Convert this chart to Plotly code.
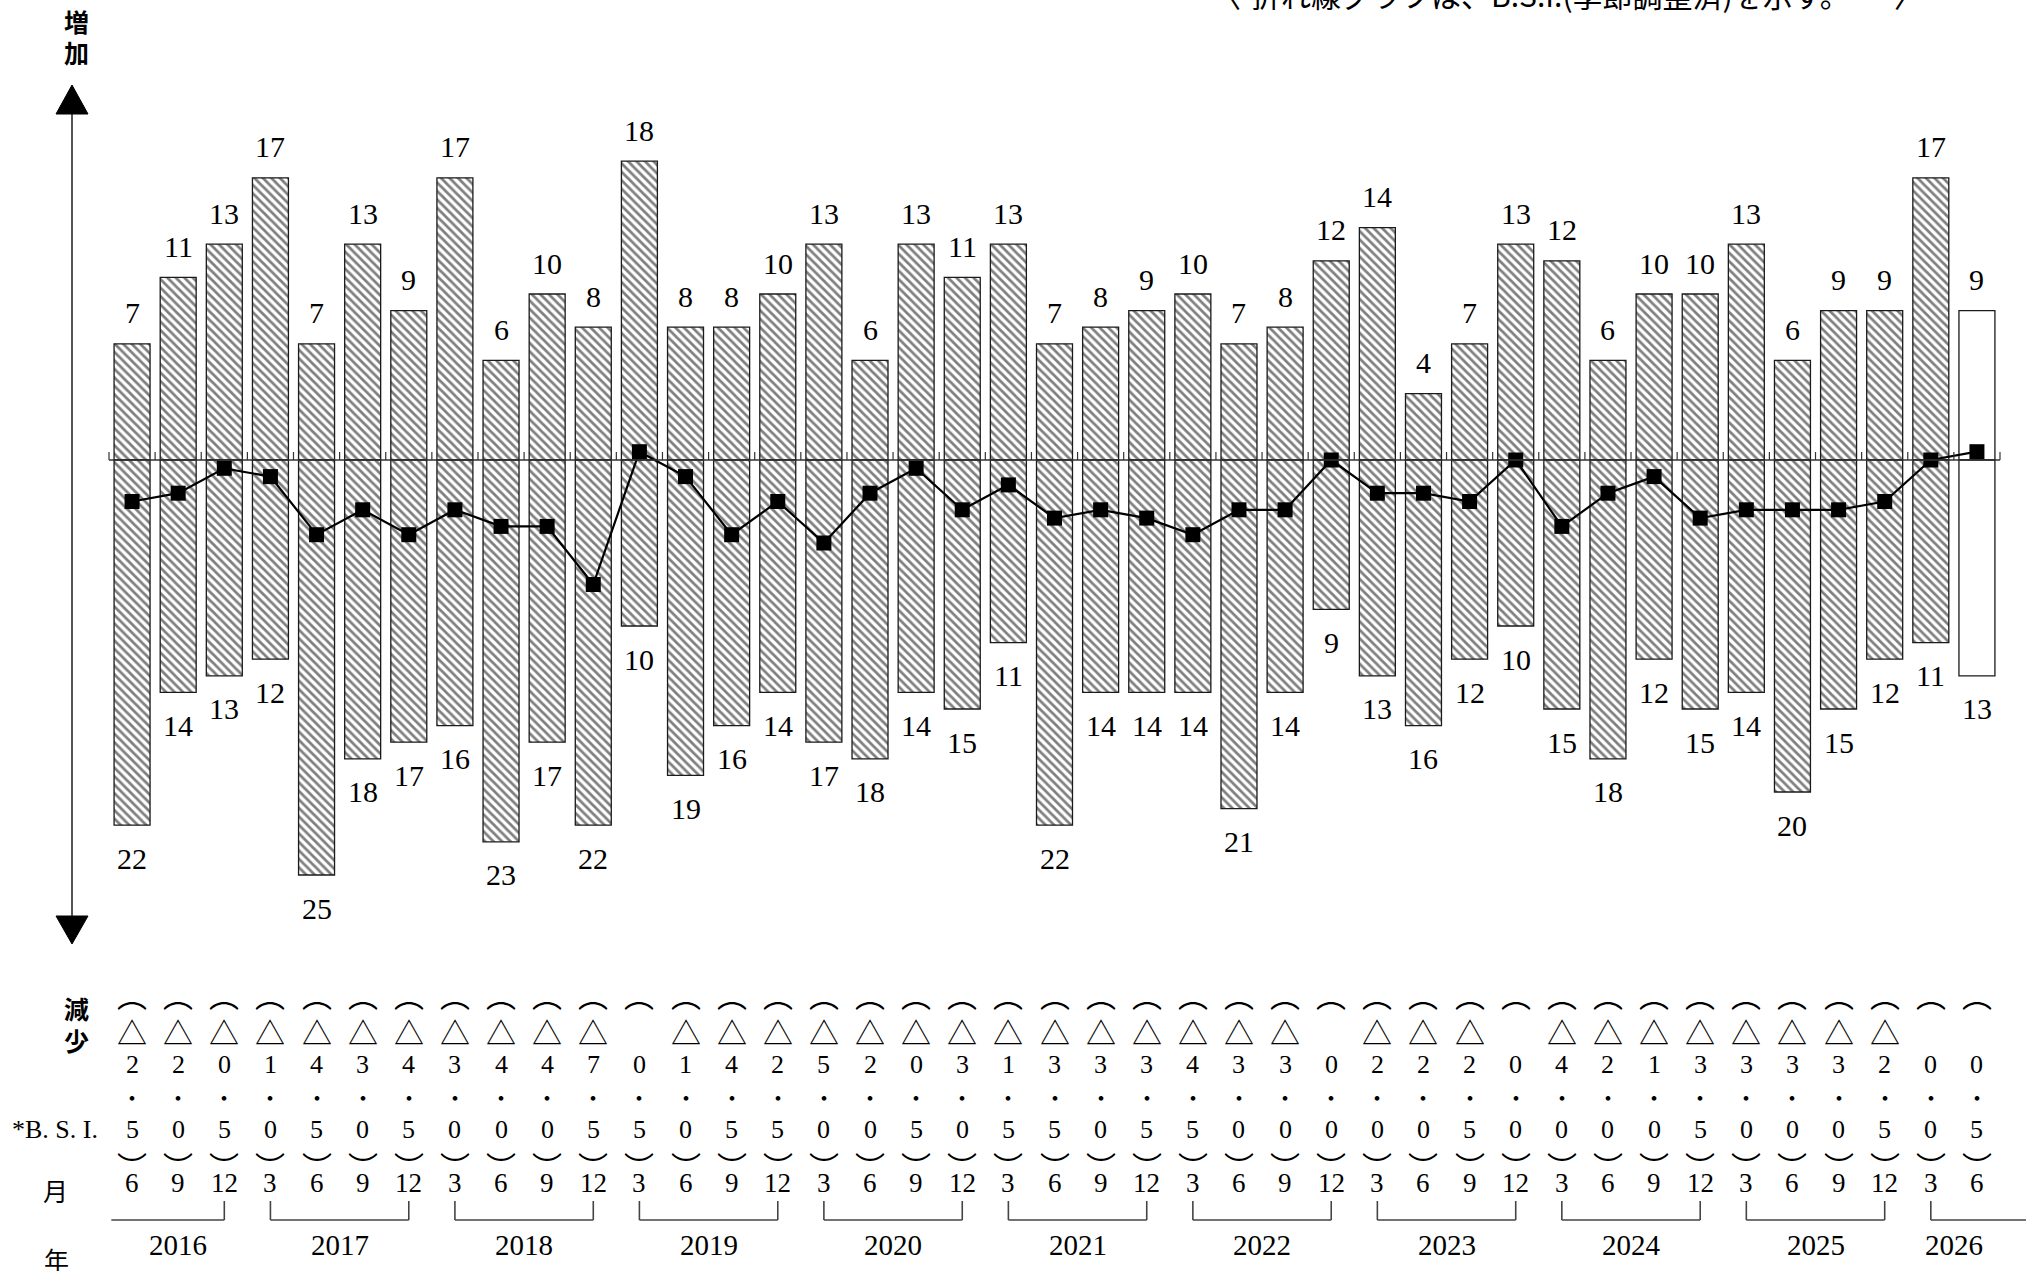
import plotly.graph_objects as go

# ---------------- data ----------------
years = [2016] * 3 + [y for y in range(2017, 2026) for _ in range(4)] + [2026] * 2
months = [6, 9, 12] + [3, 6, 9, 12] * 9 + [3, 6]

increase = [7, 11, 13, 17, 7, 13, 9, 17, 6, 10, 8, 18, 8, 8, 10, 13, 6, 13, 11, 13,
            7, 8, 9, 10, 7, 8, 12, 14, 4, 7, 13, 12, 6, 10, 10, 13, 6, 9, 9, 17, 9]
decrease = [22, 14, 13, 12, 25, 18, 17, 16, 23, 17, 22, 10, 19, 16, 14, 17, 18, 14, 15, 11,
            22, 14, 14, 14, 21, 14, 9, 13, 16, 12, 10, 15, 18, 12, 15, 14, 20, 15, 12, 11, 13]
bsi = [-2.5, -2.0, -0.5, -1.0, -4.5, -3.0, -4.5, -3.0, -4.0, -4.0, -7.5, 0.5, -1.0, -4.5,
       -2.5, -5.0, -2.0, -0.5, -3.0, -1.5, -3.5, -3.0, -3.5, -4.5, -3.0, -3.0, 0.0, -2.0,
       -2.0, -2.5, 0.0, -4.0, -2.0, -1.0, -3.5, -3.0, -3.0, -3.0, -2.5, 0.0, 0.5]
forecast = [False] * 40 + [True]

note_text = "折れ線グラフは、B.S.I.(季節調整済)を示す。"

# ---------------- layout helpers ----------------
W, H = 2026, 1271
n = len(increase)
idx = list(range(n))
X_LEFT_PX, X_RIGHT_PX = 109, 2000      # pixel of category edges -0.5 / n-0.5
PX_PER_CAT = (X_RIGHT_PX - X_LEFT_PX) / n
ZERO_PX, PX_PER_UNIT = 460, 16.6

x_range = [-0.5 - X_LEFT_PX / PX_PER_CAT, n - 0.5 + (W - X_RIGHT_PX) / PX_PER_CAT]
y_top = ZERO_PX / PX_PER_UNIT
y_range = [y_top - H / PX_PER_UNIT, y_top]


def px(x):
    return x / W


def py(y):
    return 1 - y / H


SERIF = "Liberation Serif, Times New Roman, serif"
CJK = "Noto Sans CJK JP, Noto Sans, sans-serif"

fig = go.Figure()

pattern_shapes = ["" if f else "\\" for f in forecast]
bar_marker = dict(
    color="white",
    line=dict(color="#1a1a1a", width=1.3),
    pattern=dict(shape=pattern_shapes, fgcolor="black", bgcolor="white",
                 size=6, solidity=0.46),
)
fig.add_trace(go.Bar(x=idx, y=increase, width=0.78, marker=bar_marker,
                     showlegend=False, hoverinfo="skip"))
fig.add_trace(go.Bar(x=idx, y=[-d for d in decrease], width=0.78, marker=bar_marker,
                     showlegend=False, hoverinfo="skip"))
fig.add_trace(go.Scatter(x=idx, y=bsi, mode="lines+markers",
                         line=dict(color="black", width=2.2),
                         marker=dict(symbol="square", size=15, color="black"),
                         showlegend=False, hoverinfo="skip"))

ann = []
shapes = []

# bar value labels
for i in idx:
    ann.append(dict(x=i, y=increase[i], xref="x", yref="y", yshift=31, text=str(increase[i]),
                    showarrow=False, font=dict(family=SERIF, size=30, color="black")))
    ann.append(dict(x=i, y=-decrease[i], xref="x", yref="y", yshift=-33, text=str(decrease[i]),
                    showarrow=False, font=dict(family=SERIF, size=30, color="black")))

# zero line with ticks at category edges
shapes.append(dict(type="line", xref="x", yref="y", x0=-0.5, x1=n - 0.5, y0=0, y1=0,
                   line=dict(color="#333", width=1.6), layer="above"))
for k in range(n + 1):
    shapes.append(dict(type="line", xref="x", yref="y", ysizemode="pixel", yanchor=0,
                       x0=k - 0.5, x1=k - 0.5, y0=0, y1=8,
                       line=dict(color="#333", width=1.2), layer="above"))

# left arrow
AX = 72
shapes.append(dict(type="line", xref="paper", yref="paper", x0=px(AX), x1=px(AX),
                   y0=py(105), y1=py(925), line=dict(color="#555", width=2)))
shapes.append(dict(type="path", xref="paper", yref="paper",
                   path=f"M {px(AX)},{py(85)} L {px(56)},{py(114)} L {px(88)},{py(114)} Z",
                   fillcolor="black", line=dict(color="black", width=1)))
shapes.append(dict(type="path", xref="paper", yref="paper",
                   path=f"M {px(AX)},{py(944)} L {px(56)},{py(916)} L {px(88)},{py(916)} Z",
                   fillcolor="black", line=dict(color="black", width=1)))


def side_label(text, x, y, size=25, family=CJK, bold=False):
    t = f"<b>{text}</b>" if bold else text
    ann.append(dict(x=px(x), y=py(y), xref="paper", yref="paper", text=t, showarrow=False,
                    xanchor="center", yanchor="middle",
                    font=dict(family=family, size=size, color="black")))


side_label("増", 76, 21, bold=True)
side_label("加", 76, 52, bold=True)
side_label("減", 76, 1008, bold=True)
side_label("少", 76, 1040, bold=True)
side_label("*B. S. I.", 55, 1129, size=26, family=SERIF)
side_label("月", 55, 1190, size=25)
side_label("年", 56, 1259, size=25)

# top note (cut at the top edge as in the source)
side_label("〈", 1226, -6, size=30)
side_label(note_text, 1550, -6, size=30)
side_label("〉", 1909, -6, size=30)

# B.S.I. table
def cell(i, y, text, size=26, family=SERIF):
    ann.append(dict(x=i, y=py(y), xref="x", yref="paper", text=text, showarrow=False,
                    xanchor="center", yanchor="middle",
                    font=dict(family=family, size=size, color="black")))


for i, v in enumerate(bsi):
    a = abs(v)
    ip = int(a)
    dp = int(round((a - ip) * 10))
    cell(i, 994, "︵", size=30, family=CJK)
    if v < 0:
        cell(i, 1031, "△", size=30, family=CJK)
    cell(i, 1064, str(ip))
    cell(i, 1096, "・", size=22, family=CJK)
    cell(i, 1129, str(dp))
    cell(i, 1165, "︶", size=30, family=CJK)
    cell(i, 1183, str(months[i]), size=27)

# year brackets
BR_Y, BR_TOP = 1220, 1201
for yr in sorted(set(years)):
    ids = [i for i in idx if years[i] == yr]
    first, last = ids[0], ids[-1]
    left_open = months[first] != 3
    right_open = months[last] != 12
    x0 = -0.45 if left_open else first
    x1 = x_range[1] if right_open else last
    shapes.append(dict(type="line", xref="x", yref="paper", x0=x0, x1=x1,
                       y0=py(BR_Y), y1=py(BR_Y), line=dict(color="#444", width=1.6)))
    if not left_open:
        shapes.append(dict(type="line", xref="x", yref="paper", x0=first, x1=first,
                           y0=py(BR_TOP), y1=py(BR_Y), line=dict(color="#444", width=1.6)))
    if not right_open:
        shapes.append(dict(type="line", xref="x", yref="paper", x0=last, x1=last,
                           y0=py(BR_TOP), y1=py(BR_Y), line=dict(color="#444", width=1.6)))
    ann.append(dict(x=(first + last) / 2, y=py(1245), xref="x", yref="paper", text=str(yr),
                    showarrow=False, xanchor="center", yanchor="middle",
                    font=dict(family=SERIF, size=29, color="black")))

fig.update_layout(
    width=W, height=H,
    margin=dict(l=0, r=0, t=0, b=0, pad=0),
    paper_bgcolor="white", plot_bgcolor="white",
    barmode="overlay",
    xaxis=dict(range=x_range, visible=False, fixedrange=True),
    yaxis=dict(range=y_range, visible=False, fixedrange=True),
    annotations=ann, shapes=shapes,
    showlegend=False,
)

fig.write_html("out.html", config={"displayModeBar": False},
               post_script="document.body.style.margin='0';")
